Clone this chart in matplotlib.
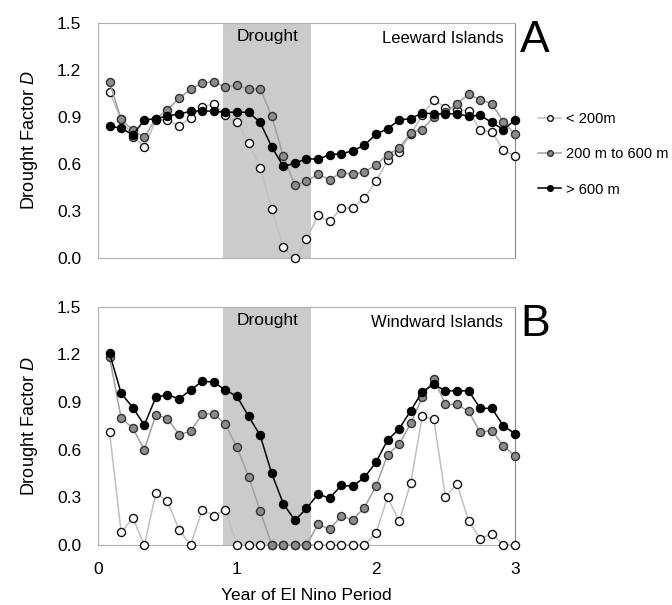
import matplotlib
matplotlib.use("Agg")
import matplotlib.pyplot as plt

# --- Fonts ---
plt.rcParams['font.family'] = ['Liberation Sans', 'DejaVu Sans']
plt.rcParams['mathtext.fontset'] = 'custom'
plt.rcParams['mathtext.it'] = 'Liberation Sans:italic'
plt.rcParams['mathtext.rm'] = 'Liberation Sans'

# --- Data (monthly, 36 months over the El Nino period) ---
months = [k / 12 for k in range(1, 37)]

lee_low = [1.06, 0.885, 0.775, 0.71, 0.88, 0.88, 0.845, 0.895, 0.965, 0.98, 0.915, 0.865,
           0.735, 0.575, 0.315, 0.07, 0.0, 0.12, 0.275, 0.235, 0.32, 0.32, 0.385, 0.49,
           0.625, 0.68, 0.79, 0.91, 1.01, 0.96, 0.945, 0.94, 0.815, 0.805, 0.69, 0.65]
lee_mid = [1.12, 0.885, 0.815, 0.77, 0.89, 0.945, 1.02, 1.075, 1.115, 1.125, 1.09, 1.105,
           1.075, 1.08, 0.905, 0.65, 0.465, 0.49, 0.535, 0.5, 0.545, 0.535, 0.55, 0.595,
           0.66, 0.70, 0.80, 0.82, 0.90, 0.93, 0.985, 1.045, 1.01, 0.985, 0.87, 0.79]
lee_high = [0.84, 0.83, 0.785, 0.88, 0.89, 0.905, 0.92, 0.935, 0.94, 0.935, 0.93, 0.93,
            0.93, 0.865, 0.71, 0.585, 0.605, 0.635, 0.63, 0.66, 0.665, 0.685, 0.72, 0.79,
            0.825, 0.88, 0.89, 0.925, 0.92, 0.92, 0.92, 0.905, 0.91, 0.865, 0.82, 0.88]

wind_low = [0.71, 0.08, 0.17, 0.0, 0.325, 0.275, 0.095, 0.0, 0.22, 0.185, 0.22, 0.0,
            0.0, 0.0, 0.0, 0.0, 0.0, 0.0, 0.0, 0.0, 0.0, 0.0, 0.0, 0.075,
            0.30, 0.15, 0.39, 0.81, 0.79, 0.30, 0.385, 0.15, 0.04, 0.07, 0.0, 0.0]
wind_mid = [1.18, 0.80, 0.735, 0.60, 0.82, 0.795, 0.695, 0.715, 0.825, 0.825, 0.76, 0.615,
            0.43, 0.215, 0.0, 0.0, 0.0, 0.0, 0.13, 0.10, 0.18, 0.16, 0.235, 0.37,
            0.565, 0.635, 0.765, 0.93, 1.045, 0.885, 0.885, 0.84, 0.71, 0.72, 0.625, 0.56]
wind_high = [1.205, 0.955, 0.865, 0.755, 0.93, 0.945, 0.92, 0.975, 1.03, 1.025, 0.975, 0.935,
             0.81, 0.69, 0.45, 0.26, 0.155, 0.23, 0.32, 0.295, 0.375, 0.37, 0.425, 0.52,
             0.66, 0.73, 0.845, 0.965, 1.01, 0.97, 0.97, 0.97, 0.86, 0.86, 0.75, 0.70]

labels = ["< 200m", "200 m to 600 m", "> 600 m"]
drought = (0.9, 1.535)
y_ticks = [0.0, 0.3, 0.6, 0.9, 1.2, 1.5]
x_ticks = [0, 1, 2, 3]

# --- Styles per elevation band ---
styles = [
    dict(color='#c0c0c0', mfc='white', mec='#111111', zorder=3),
    dict(color='#a0a0a0', mfc='#8c8c8c', mec='#333333', zorder=4),
    dict(color='#000000', mfc='#000000', mec='#000000', zorder=5),
]


def draw_panel(ax, series, region, letter, show_x):
    ax.axvspan(drought[0], drought[1], color='#cbcbcb', lw=0, zorder=0)
    for vals, st, lab in zip(series, styles, labels):
        ax.plot(months, vals, marker='o', ms=5.8, mew=1.0, lw=1.1,
                color=st['color'], mfc=st['mfc'], mec=st['mec'],
                zorder=st['zorder'], clip_on=False, label=lab)
    ax.set_xlim(0, 3)
    ax.set_ylim(0, 1.5)
    ax.set_yticks(y_ticks)
    ax.set_yticklabels([f"{v:.1f}" for v in y_ticks])
    ax.set_xticks(x_ticks)
    if not show_x:
        ax.set_xticklabels([])
    ax.tick_params(length=0, labelsize=12.5, pad=12)
    for side in ['left', 'bottom', 'top']:
        ax.spines[side].set_color('#b0b0b0')
    ax.spines['right'].set_color('#8a8a8a')
    ax.set_ylabel(r"Drought Factor $D$", fontsize=13, labelpad=12)
    ax.text(sum(drought) / 2, 0.94, "Drought", transform=ax.get_xaxis_transform(),
            ha='center', va='center', fontsize=12.5)
    ax.text(0.972, 0.932, region, transform=ax.transAxes,
            ha='right', va='center', fontsize=12)
    ax.text(1.012, 1.01, letter, transform=ax.transAxes,
            ha='left', va='top', fontsize=32)


fig = plt.figure(figsize=(6.72, 6.05), dpi=100)
ax_a = fig.add_axes([0.1458, 0.573, 0.6205, 0.3895])
ax_b = fig.add_axes([0.1458, 0.0992, 0.6205, 0.394])

draw_panel(ax_a, [lee_low, lee_mid, lee_high], "Leeward Islands", "A", False)
draw_panel(ax_b, [wind_low, wind_mid, wind_high], "Windward Islands", "B", True)
ax_b.set_xlabel("Year of El Nino Period", fontsize=12.5, labelpad=8)

ax_a.legend(loc='upper left', bbox_to_anchor=(1.055, 0.62), frameon=False,
            fontsize=10.5, markerscale=0.7, handlelength=1.6, handletextpad=0.3,
            labelspacing=1.45, borderaxespad=0, borderpad=0)

fig.savefig("out.png", dpi=100)
